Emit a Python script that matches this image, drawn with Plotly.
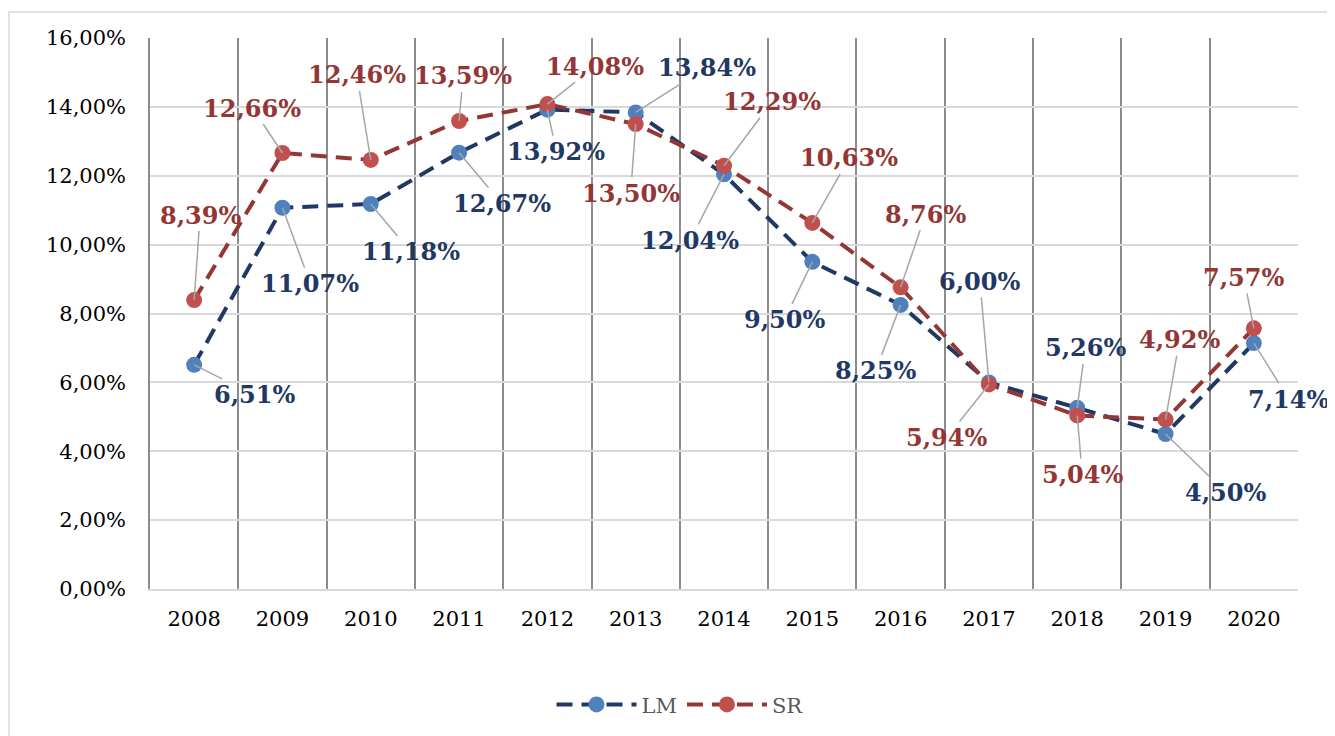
import plotly.graph_objects as go

years = ["2008", "2009", "2010", "2011", "2012", "2013", "2014",
         "2015", "2016", "2017", "2018", "2019", "2020"]
lm = [6.51, 11.07, 11.18, 12.67, 13.92, 13.84, 12.04, 9.50, 8.25, 6.00, 5.26, 4.50, 7.14]
sr = [8.39, 12.66, 12.46, 13.59, 14.08, 13.50, 12.29, 10.63, 8.76, 5.94, 5.04, 4.92, 7.57]

# label offsets (pixels) from each point
lm_dx = [60, 28, 40, 43, 9, 71, -34, -28, -25, -9, 8, 60, 35]
lm_dy = [30, 76, 48, 51, 42, -45, 66, 58, 66, -101, -60, 58, 56]
sr_dx = [6, -30, -14, 4, 48, -5, 48, 37, 25, -42, 5, 14, -10]
sr_dy = [-85, -45, -85, -45, -38, 69, -64, -65, -73, 53, 59, -80, -51]

FONT = "DejaVu Serif"
LM_LINE, LM_MARK, LM_TXT = "#203864", "#4F81BD", "#1F3864"
SR_LINE, SR_MARK, SR_TXT = "#943634", "#C0504D", "#943634"

fig = go.Figure()
fig.add_trace(go.Scatter(
    x=years, y=[v / 100 for v in lm], name="LM", mode="lines+markers",
    line=dict(color=LM_LINE, width=4, dash="16px,9px"),
    marker=dict(color=LM_MARK, size=16)))
fig.add_trace(go.Scatter(
    x=years, y=[v / 100 for v in sr], name="SR", mode="lines+markers",
    line=dict(color=SR_LINE, width=4, dash="16px,9px"),
    marker=dict(color=SR_MARK, size=16)))

def fmt(v):
    return f"{v:.2f}".replace(".", ",") + "%"

for vals, dxs, dys, col in [(lm, lm_dx, lm_dy, LM_TXT), (sr, sr_dx, sr_dy, SR_TXT)]:
    for i, (v, dx, dy) in enumerate(zip(vals, dxs, dys)):
        fig.add_annotation(
            x=i, y=v / 100, xref="x", yref="y", ax=dx, ay=dy,
            text="<b>" + fmt(v) + "</b>",
            showarrow=True, arrowhead=0, arrowwidth=1.5, arrowcolor="#A6A6A6",
            font=dict(family=FONT, size=24, color=col))

fig.update_layout(
    width=1327, height=728,
    paper_bgcolor="white", plot_bgcolor="white",
    separators=",.",
    margin=dict(l=142, r=37, t=30, b=146),
    font=dict(family=FONT, size=21, color="#000000"),
    showlegend=True,
    legend=dict(orientation="h", x=(680 - 150) / 1148, xanchor="center", y=-0.208,
                yanchor="middle",
                font=dict(family=FONT, size=21, color="#595959"),
                itemwidth=80, traceorder="normal"),
)
fig.add_shape(type="rect", xref="paper", yref="paper",
              x0=(9 - 150) / 1148, x1=1.2, y0=-0.5, y1=(590 - 12) / 552,
              line=dict(color="#D9D9D9", width=1.5), layer="below")
fig.update_xaxes(
    type="category", tickson="boundaries", showgrid=True, gridcolor="#8C8C8C", gridwidth=1.5,
    ticks="", showline=True, linecolor="#D9D9D9", linewidth=1.5, mirror=False,
    ticklabelstandoff=10,
    tickfont=dict(family=FONT, size=21, color="#000000"), range=[-0.5, 12.5])
fig.update_yaxes(
    range=[0, 0.16], dtick=0.02, tickformat=".2%", showgrid=True, gridcolor="#D9D9D9",
    gridwidth=1.5, zeroline=False, showline=True, linecolor="#8C8C8C", linewidth=1.5,
    ticks="", ticklabelstandoff=18,
    tickfont=dict(family=FONT, size=21, color="#000000"))

fig.write_html("out.html")
